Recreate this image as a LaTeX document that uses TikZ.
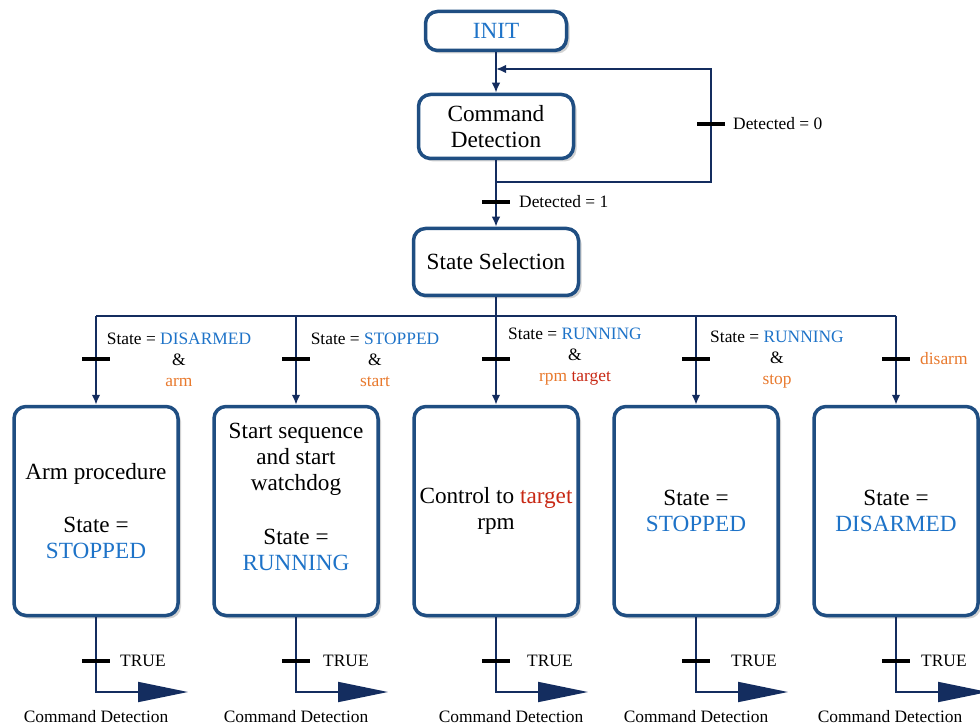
\documentclass[tikz,border=0pt]{standalone}
\usepackage{fontspec}
\setmainfont{Liberation Serif}
\usetikzlibrary{arrows.meta,shadows}
\definecolor{boxc}{RGB}{31,78,130}
\definecolor{linec}{RGB}{20,45,95}
\definecolor{tblue}{RGB}{30,115,200}
\definecolor{torange}{RGB}{232,121,45}
\definecolor{tred}{RGB}{200,40,20}
\begin{document}
\begin{tikzpicture}[x=1pt,y=-1pt,
  bx/.style={draw=boxc,line width=3.5pt,rounded corners=12pt,fill=white,align=center,inner sep=0pt,
    font=\fontsize{23.2}{26}\selectfont,
    drop shadow={shadow xshift=3pt,shadow yshift=-3pt,opacity=0.25,fill=black!70}},
  big/.style={bx,minimum width=164pt,minimum height=209pt},
  conn/.style={draw=linec,line width=1.8pt},
  arr/.style={conn,-{Latex[length=10pt,width=8.5pt]}},
  bigarr/.style={conn,-{Triangle[length=50pt,width=20pt]}},
  tk/.style={line width=3.5pt,draw=black},
  lb/.style={font=\fontsize{17.4}{21}\selectfont,inner sep=0pt,align=center},
]
\useasboundingbox (0,0) rectangle (980,727);

% main boxes
\node[bx,minimum width=141pt,minimum height=39pt,text=tblue] (init) at (496,31) {INIT};
\node[bx,minimum width=155pt,minimum height=64pt] (cd) at (496,126.5) {Command\\Detection};
\node[bx,minimum width=165pt,minimum height=67pt] (ss) at (496,262) {State Selection};

\node[big] (b1) at (96,511) {Arm procedure\\[27pt]State =\\\textcolor{tblue}{STOPPED}};
\node[big] (b2) at (296,511) {Start sequence\\and start\\watchdog\\[28pt]State =\\\textcolor{tblue}{RUNNING}\\[2pt]\mbox{}};
\node[big] (b3) at (496,511) {Control to \textcolor{tred}{target}\\rpm};
\node[big] (b4) at (696,511) {State =\\\textcolor{tblue}{STOPPED}};
\node[big] (b5) at (896,511) {State =\\\textcolor{tblue}{DISARMED}};

% top connectors
\draw[arr] (init.south) -- (cd.north);
\draw[arr] (cd.south) -- (ss.north);
\coordinate (m1) at (496,182);
\coordinate (lp) at (711,69);
\coordinate (m2) at (496,69);
\draw[arr] (m1) -| (lp) -- (m2);
\coordinate (k0) at (711,124);
\coordinate (k1) at (496,202);
\draw[tk] (k0) ++(-14,0) -- ++(28,0);
\draw[tk] (k1) ++(-14,0) -- ++(28,0);
\node[lb,anchor=west] (d0) at (733,124) {Detected = 0};
\node[lb,anchor=west] (d1) at (519,202) {Detected = 1};

% bus
\coordinate (busL) at (96,316);
\coordinate (busR) at (896,316);
\coordinate (j2) at (296,316);
\coordinate (j4) at (696,316);
\draw[conn] (ss.south) -- (496,316);
\draw[conn] (busL) -- (busR);
\draw[arr] (busL) -- (b1.north);
\draw[arr] (j2) -- (b2.north);
\draw[arr] (ss.south) -- (b3.north);
\draw[arr] (j4) -- (b4.north);
\draw[arr] (busR) -- (b5.north);
\foreach \x in {96,296,496,696,896}{
  \draw[tk] (\x-14,359) -- (\x+14,359);
}
\node[lb] (l1) at (179,360) {State = \textcolor{tblue}{DISARMED}\\\&\\\textcolor{torange}{arm}};
\node[lb] (l2) at (375,360) {State = \textcolor{tblue}{STOPPED}\\\&\\\textcolor{torange}{start}};
\node[lb] (l3) at (575,357) {State = \textcolor{tblue}{RUNNING}\\\&\\\textcolor{torange}{rpm} \textcolor{tred}{target}};
\node[lb] (l4) at (777,360) {State = \textcolor{tblue}{RUNNING}\\\&\\\textcolor{torange}{stop}};
\node[lb,anchor=west,text=torange] (l5) at (920,359) {disarm};

% bottom exits
\foreach \i/\x/\tx/\cx in {1/96/120/96, 2/296/323/296, 3/496/527/511, 4/696/731/696, 5/896/921/890}{
  \coordinate (e\i) at (\x+92,692);
  \draw[bigarr] (b\i.south) |- (e\i);
  \draw[tk] (\x-14,661) -- (\x+14,661);
  \node[lb,anchor=west] (tr\i) at (\tx,661) {TRUE};
  \node[lb] (cdt\i) at (\cx,717) {Command Detection};
}
\end{tikzpicture}
\end{document}
